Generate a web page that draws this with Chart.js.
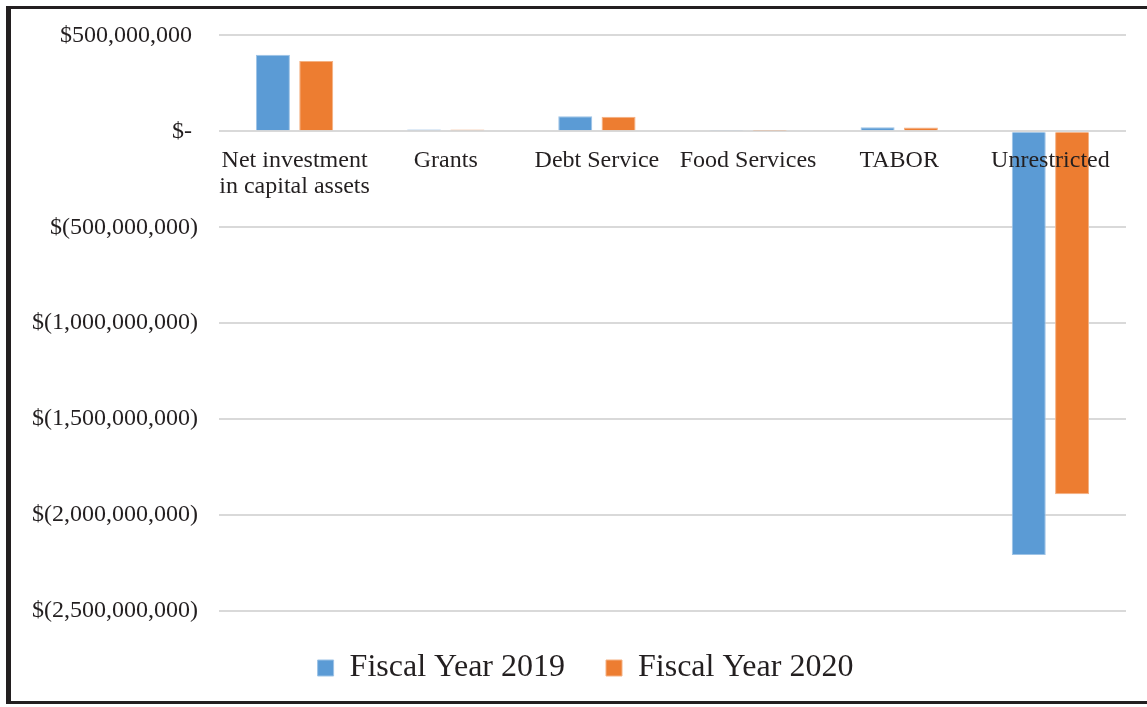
<!DOCTYPE html>
<html>
<head>
<meta charset="utf-8">
<script src="https://cdn.jsdelivr.net/npm/chart.js@4"></script>
<style>
    html, body { margin: 0; padding: 0; background: #fff; }
    #wrap { position: relative; width: 1147px; height: 707px; overflow: hidden; }
    #frame {
        position: absolute; left: 6px; top: 6px; width: 1150px; height: 698px;
        border-left: 5px solid #231f20; border-top: 3px solid #231f20; border-bottom: 3px solid #231f20;
        box-sizing: border-box; pointer-events: none;
    }
</style>
</head>
<body>
<div id="wrap">
    <canvas id="netPosition" width="1147" height="707"></canvas>
    <div id="frame"></div>
</div>
<script>
const categories = [['Net investment', 'in capital assets'], 'Grants', 'Debt Service', 'Food Services', 'TABOR', 'Unrestricted'];
const fy2019 = [399000000, 10000000, 78000000, 4000000, 21000000, -2208000000];
const fy2020 = [366000000, 9000000, 76000000, 3000000, 20000000, -1892000000];
const seriesNames = ['Fiscal Year 2019', 'Fiscal Year 2020'];

const yMin = -2500000000;
const yMax = 500000000;
const yStep = 500000000;

const textColor = '#231f20';
const gridColor = '#d9d9d9';
const serif = '"Liberation Serif", "Times New Roman", serif';

// accounting style: $(1,000,000,000) for negatives, $- for zero
function money(value) {
    if (value === 0) {
        return '$- ';
    }
    if (value < 0) {
        return '$(' + Math.abs(value).toLocaleString('en-US') + ')';
    }
    return '$' + value.toLocaleString('en-US') + ' ';
}

// nudge the legend so it sits centred under the whole frame, not the padded box
const legendShift = {
    id: 'legendShift',
    afterLayout(chart) {
        if (chart.legend) {
            chart.legend.left += 17;
            chart.legend.right += 17;
        }
    }
};

Chart.defaults.font.family = serif;
Chart.defaults.color = textColor;

let chart = new Chart(document.getElementById('netPosition'), {
    type: 'bar',
    data: {
        labels: categories,
        datasets: [
            {
                label: seriesNames[0],
                data: fy2019,
                backgroundColor: '#5b9bd5',
                borderColor: '#9dc3e6',
                borderWidth: 1,
                categoryPercentage: 0.573,
                barPercentage: 0.785
            },
            {
                label: seriesNames[1],
                data: fy2020,
                backgroundColor: '#ed7d31',
                borderColor: '#f4b183',
                borderWidth: 1,
                categoryPercentage: 0.573,
                barPercentage: 0.785
            }
        ]
    },
    plugins: [legendShift],
    options: {
        responsive: false,
        animation: false,
        layout: {
            padding: { top: 35, left: 11, right: 21, bottom: 13 }
        },
        scales: {
            x: {
                position: { y: 0 },
                grid: { display: false, drawTicks: false },
                border: { display: false },
                ticks: {
                    z: 1,
                    padding: 16,
                    maxRotation: 0,
                    autoSkip: false,
                    color: textColor,
                    font: { size: 24, lineHeight: 1.083 }
                }
            },
            y: {
                min: yMin,
                max: yMax,
                grid: { color: gridColor, lineWidth: 2, drawTicks: false },
                border: { display: false },
                ticks: {
                    stepSize: yStep,
                    padding: 21,
                    color: textColor,
                    font: { size: 24 },
                    callback: function (value) {
                        return money(value);
                    }
                }
            }
        },
        plugins: {
            legend: {
                position: 'bottom',
                labels: {
                    boxWidth: 16,
                    boxHeight: 16,
                    padding: 41,
                    color: textColor,
                    font: { size: 32 }
                }
            },
            tooltip: { enabled: false }
        }
    }
});
</script>
</body>
</html>
